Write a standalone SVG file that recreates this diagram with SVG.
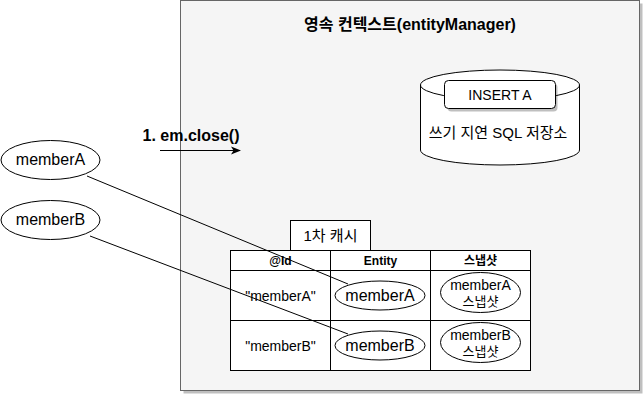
<svg xmlns="http://www.w3.org/2000/svg" width="643" height="394" viewBox="0 0 643 394">
<defs>
<style>
text{font-family:"Liberation Sans","Noto Sans CJK KR",Arial,sans-serif;fill:#000;text-anchor:middle}
.b{font-weight:bold}
.s{fill:#fff;stroke:#000;stroke-width:1}
.sh{fill:#000;opacity:.25}
.cell{fill:#fff;stroke:#000;stroke-width:1}
.ln{stroke:#000;stroke-width:1;fill:none}
</style>
<marker id="arr" viewBox="0 0 10 10" refX="9" refY="5" markerWidth="10" markerHeight="10" markerUnits="userSpaceOnUse" orient="auto">
<path d="M0,1 L10,5 L0,9 L2.5,5 Z" fill="#000"/>
</marker>
</defs>
<g id="context">
<rect class="sh" x="183.5" y="3.5" width="459" height="390"/>
<rect x="180.5" y="0.5" width="459" height="390" fill="#f5f5f5" stroke="#666"/>
<text class="b" x="410" y="30" font-size="16">영속 컨텍스트(entityManager)</text>
</g>
<g id="sqlstore">
<path class="s" d="M420.5,85 a79.5,15 0 0 1 159,0 v65 a79.5,15 0 0 1 -159,0 z"/>
<path class="ln" d="M420.5,85 a79.5,15 0 0 0 159,0"/>
<text x="498" y="138" font-size="15">쓰기 지연 SQL 저장소</text>
</g>
<g id="insertA">
<rect class="sh" x="447.5" y="83.5" width="110" height="28" rx="4"/>
<rect class="s" x="444.5" y="80.5" width="111" height="28" rx="4"/>
<text x="500" y="100" font-size="14">INSERT A</text>
</g>
<g id="close-label">
<text class="b" x="191" y="141" font-size="16">1. em.close()</text>
</g>
<g id="cache-label">
<rect class="s" x="290.5" y="220.5" width="80" height="30"/>
<text x="330.5" y="241" font-size="15">1차 캐시</text>
</g>
<g id="cache-table">
<rect class="cell" x="230.5" y="250.5" width="100" height="20"/>
<rect class="cell" x="330.5" y="250.5" width="100" height="20"/>
<rect class="cell" x="430.5" y="250.5" width="100" height="20"/>
<rect class="cell" x="230.5" y="270.5" width="100" height="50"/>
<rect class="cell" x="330.5" y="270.5" width="100" height="50"/>
<rect class="cell" x="430.5" y="270.5" width="100" height="50"/>
<rect class="cell" x="230.5" y="320.5" width="100" height="50"/>
<rect class="cell" x="330.5" y="320.5" width="100" height="50"/>
<rect class="cell" x="430.5" y="320.5" width="100" height="50"/>
<text class="b" x="280.5" y="265" font-size="12">@Id</text>
<text class="b" x="380.5" y="265" font-size="12">Entity</text>
<text class="b" x="480.5" y="265" font-size="12">스냅샷</text>
<text x="280.5" y="301" font-size="14">"memberA"</text>
<text x="280.5" y="351" font-size="14">"memberB"</text>
</g>
<g id="entityA">
<ellipse class="s" cx="380" cy="295.5" rx="45" ry="14.5"/>
<text x="380" y="301" font-size="16">memberA</text>
</g>
<g id="entityB">
<ellipse class="s" cx="380" cy="345.5" rx="45" ry="14.5"/>
<text x="380" y="351" font-size="16">memberB</text>
</g>
<g id="snapA">
<ellipse class="s" cx="480.5" cy="292.5" rx="40" ry="20"/>
<text x="480.5" y="290" font-size="14">memberA</text>
<text x="480.5" y="306" font-size="13">스냅샷</text>
</g>
<g id="snapB">
<ellipse class="s" cx="480.5" cy="342.5" rx="40" ry="20"/>
<text x="480.5" y="340" font-size="14">memberB</text>
<text x="480.5" y="356" font-size="13">스냅샷</text>
</g>
<g id="memberA">
<ellipse class="s" cx="50.5" cy="160" rx="49.5" ry="19.5"/>
<text x="50.5" y="165" font-size="16">memberA</text>
</g>
<g id="memberB">
<ellipse class="s" cx="50.5" cy="220" rx="49.5" ry="19.5"/>
<text x="50.5" y="225" font-size="16">memberB</text>
</g>
<g id="connectors">
<line class="ln" x1="160" y1="150.5" x2="240" y2="150.5" marker-end="url(#arr)"/>
<line class="ln" x1="87" y1="176" x2="348" y2="284"/>
<line class="ln" x1="90" y1="236" x2="348" y2="334"/>
</g>
</svg>
